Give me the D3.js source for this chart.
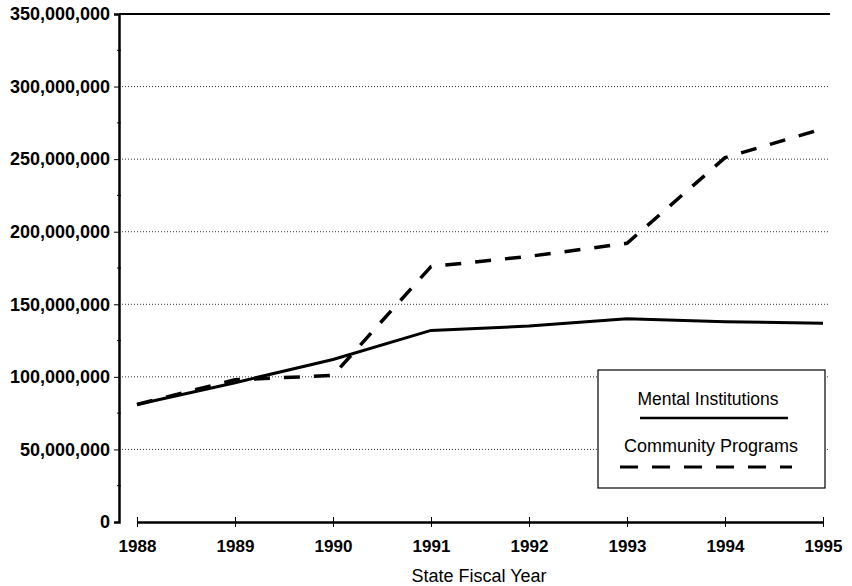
<!DOCTYPE html>
<html>
<head>
<meta charset="utf-8">
<script src="https://cdn.jsdelivr.net/npm/d3@7"></script>
<style>
  body { margin: 0; background: #fff; }
  text { font-family: "Liberation Sans", Arial, sans-serif; fill: #000; }
</style>
</head>
<body>
<div class="chart"></div>
<script>
const years = [1988, 1989, 1990, 1991, 1992, 1993, 1994, 1995]
const mentalInstitutions = [81, 96, 112, 132, 135, 140, 138, 137].map(d => d * 1e6)
const communityPrograms = [81, 98, 101, 176, 183, 192, 251, 271].map(d => d * 1e6)
const yTicks = [0, 50e6, 100e6, 150e6, 200e6, 250e6, 300e6, 350e6]
const seriesNames = ["Mental Institutions", "Community Programs"]

const W = 852, H = 586
const margin = ({top: 14, right: 22, bottom: 64, left: 119})
const width = W - margin.left - margin.right
const height = H - margin.top - margin.bottom

const svg = d3.select('.chart').append('svg')
    .attr("width", W)
    .attr("height", H)

const g = svg.append("g")
    .attr("transform", "translate(" + margin.left + "," + margin.top + ")")

const xScale = d3.scaleLinear()
    .domain([1988, 1995])
    .range([18, 704])

const yScale = d3.scaleLinear()
    .domain([0, 350e6])
    .range([height, 0])

// dotted gridlines
g.selectAll('.grid')
    .data(yTicks.filter(d => d > 0 && d < 350e6))
    .enter()
    .append('line')
    .attr('x1', 0).attr('x2', width)
    .attr('y1', d => yScale(d)).attr('y2', d => yScale(d))
    .attr('stroke', '#333')
    .attr('stroke-width', 1)
    .attr('stroke-dasharray', '1,2')

// top border
g.append('line')
    .attr('x1', 0).attr('x2', width)
    .attr('y1', 0).attr('y2', 0)
    .attr('stroke', '#000').attr('stroke-width', 2)

// y axis
const yAxis = d3.axisLeft(yScale)
    .tickValues(yTicks)
    .tickFormat(d3.format(","))
    .tickSize(5)
    .tickPadding(4)

const ya = g.append("g").attr("class", "axis y-axis").call(yAxis)
ya.select('.domain').attr('stroke-width', 2.5)
ya.selectAll('text').style('font-size', '18px').style('font-weight', 'bold')

// minor ticks on y axis
g.selectAll('.minor')
    .data(d3.range(25e6, 350e6, 50e6))
    .enter()
    .append('line')
    .attr('x1', -2).attr('x2', 2)
    .attr('y1', d => yScale(d)).attr('y2', d => yScale(d))
    .attr('stroke', '#000')

// x axis
const xAxis = d3.axisBottom(xScale)
    .tickValues(years)
    .tickFormat(d3.format("d"))
    .tickSizeInner(5)
    .tickSizeOuter(0)
    .tickPadding(13)

const xa = g.append("g")
    .attr("class", "axis x-axis")
    .attr("transform", `translate(0, ${height})`)
    .call(xAxis)
xa.select('.domain').attr('stroke-width', 2.5)
xa.selectAll('.tick line').attr('y1', -5)
xa.selectAll('text').style('font-size', '17px').style('font-weight', 'bold')

svg.append('text')
    .attr('x', 479).attr('y', 582)
    .attr('text-anchor', 'middle')
    .style('font-size', '18px')
    .text('State Fiscal Year')

// lines
const line = d3.line()
    .x((d, i) => xScale(years[i]))
    .y(d => yScale(d))

g.append('path')
    .datum(mentalInstitutions)
    .attr('d', line)
    .attr('fill', 'none')
    .attr('stroke', '#000')
    .attr('stroke-width', 3)

g.append('path')
    .datum(communityPrograms)
    .attr('d', line)
    .attr('fill', 'none')
    .attr('stroke', '#000')
    .attr('stroke-width', 3.5)
    .attr('stroke-dasharray', '16,14')

// legend
const lg = svg.append('g').attr('transform', 'translate(598,370)')
lg.append('rect')
    .attr('width', 227).attr('height', 118)
    .attr('fill', '#fff')
    .attr('stroke', '#000')
    .attr('stroke-width', 1.2)

lg.append('text')
    .attr('x', 110).attr('y', 35)
    .attr('text-anchor', 'middle')
    .style('font-size', '17.5px')
    .text(seriesNames[0])
lg.append('line')
    .attr('x1', 42).attr('x2', 190)
    .attr('y1', 48).attr('y2', 48)
    .attr('stroke', '#000').attr('stroke-width', 2.5)

lg.append('text')
    .attr('x', 113).attr('y', 82)
    .attr('text-anchor', 'middle')
    .style('font-size', '18px')
    .text(seriesNames[1])
lg.append('line')
    .attr('x1', 22).attr('x2', 194)
    .attr('y1', 97).attr('y2', 97)
    .attr('stroke', '#000').attr('stroke-width', 3)
    .attr('stroke-dasharray', '18,14')
</script>
</body>
</html>
